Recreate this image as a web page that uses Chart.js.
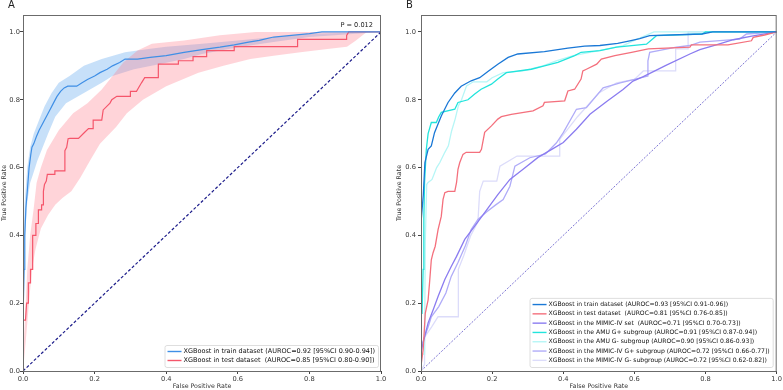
<!DOCTYPE html>
<html>
<head>
<meta charset="utf-8">
<script src="https://cdn.jsdelivr.net/npm/chart.js@4.4.1/dist/chart.umd.min.js"></script>
<style>
  body { margin: 0; background: #fff; width: 783px; height: 390px; position: relative; overflow: hidden; font-family: "DejaVu Sans", sans-serif; }
  canvas { position: absolute; top: 0; }
  .panel { position: absolute; top: -1px; font-size: 10px; color: #222; }
</style>
</head>
<body>
<canvas id="chartA" width="390" height="390" style="left:0"></canvas>
<canvas id="chartB" width="393" height="390" style="left:390px"></canvas>
<div class="panel" style="left:8px">A</div>
<div class="panel" style="left:406px">B</div>
<script>
// ---------- Panel A data ----------
const trainA_fpr = [0, 0, 0.003, 0.005, 0.008, 0.012, 0.017, 0.022, 0.025, 0.03, 0.037, 0.045, 0.055, 0.065, 0.075, 0.085, 0.095, 0.105, 0.115, 0.125, 0.15, 0.165, 0.18, 0.2, 0.215, 0.235, 0.25, 0.27, 0.285, 0.32, 0.355, 0.4, 0.45, 0.5, 0.55, 0.59, 0.63, 0.66, 0.7, 0.75, 0.8, 0.835, 1.0];
const trainA_tpr = [0, 0.15, 0.3, 0.4, 0.48, 0.53, 0.6, 0.64, 0.66, 0.67, 0.69, 0.71, 0.73, 0.75, 0.77, 0.79, 0.81, 0.825, 0.835, 0.84, 0.84, 0.85, 0.86, 0.87, 0.88, 0.89, 0.9, 0.91, 0.92, 0.92, 0.925, 0.93, 0.94, 0.948, 0.955, 0.962, 0.97, 0.975, 0.985, 0.99, 0.995, 1.0, 1.0];

const trainA_hi_fpr = [0, 0, 0.005, 0.012, 0.02, 0.03, 0.045, 0.06, 0.08, 0.1, 0.13, 0.17, 0.22, 0.285, 0.35, 0.4, 0.5, 0.6, 0.7, 0.8, 1.0];
const trainA_hi_tpr = [0, 0.3, 0.5, 0.6, 0.66, 0.7, 0.74, 0.78, 0.82, 0.85, 0.87, 0.9, 0.92, 0.94, 0.95, 0.956, 0.965, 0.975, 0.985, 0.995, 1.0];
const trainA_lo_fpr = [1.0, 0.8, 0.7, 0.6, 0.5, 0.45, 0.38, 0.31, 0.25, 0.22, 0.17, 0.12, 0.09, 0.07, 0.052, 0.04, 0.028, 0.02, 0.012, 0.006, 0.004, 0.002, 0];
const trainA_lo_tpr = [1.0, 0.985, 0.97, 0.955, 0.935, 0.92, 0.905, 0.89, 0.87, 0.85, 0.82, 0.79, 0.75, 0.7, 0.652, 0.62, 0.58, 0.555, 0.5, 0.4, 0.3, 0.15, 0];

const testA_fpr = [0, 0, 0.007, 0.01, 0.015, 0.015, 0.021, 0.021, 0.027, 0.027, 0.036, 0.036, 0.043, 0.043, 0.052, 0.052, 0.057, 0.057, 0.06, 0.065, 0.068, 0.089, 0.089, 0.117, 0.117, 0.122, 0.126, 0.131, 0.155, 0.173, 0.183, 0.196, 0.196, 0.22, 0.224, 0.243, 0.248, 0.262, 0.3, 0.3, 0.317, 0.322, 0.331, 0.34, 0.378, 0.378, 0.434, 0.434, 0.475, 0.475, 0.513, 0.513, 0.59, 0.59, 0.767, 0.767, 0.904, 0.904, 0.91, 1.0];
const testA_tpr = [0, 0.15, 0.15, 0.2, 0.2, 0.26, 0.26, 0.3, 0.3, 0.4, 0.4, 0.435, 0.435, 0.475, 0.475, 0.49, 0.49, 0.53, 0.55, 0.56, 0.58, 0.58, 0.59, 0.59, 0.65, 0.66, 0.685, 0.686, 0.686, 0.705, 0.715, 0.715, 0.74, 0.74, 0.77, 0.79, 0.80, 0.81, 0.81, 0.825, 0.825, 0.834, 0.85, 0.865, 0.865, 0.905, 0.905, 0.915, 0.915, 0.927, 0.927, 0.945, 0.945, 0.957, 0.957, 0.978, 0.978, 0.99, 1.0, 1.0];

const testA_hi_fpr = [0, 0.003, 0.006, 0.012, 0.02, 0.03, 0.038, 0.05, 0.067, 0.1, 0.14, 0.18, 0.22, 0.25, 0.28, 0.32, 0.36, 0.45, 0.55, 0.65, 1.0];
const testA_hi_tpr = [0, 0.1, 0.16, 0.3, 0.4, 0.48, 0.555, 0.6, 0.652, 0.71, 0.76, 0.79, 0.83, 0.87, 0.91, 0.945, 0.965, 0.975, 0.99, 1.0, 1.0];
const testA_lo_fpr = [1, 0.96, 0.93, 0.905, 0.85, 0.775, 0.7, 0.635, 0.56, 0.49, 0.4, 0.335, 0.29, 0.26, 0.215, 0.187, 0.16, 0.135, 0.11, 0.09, 0.07, 0.05, 0.035, 0.025, 0.015, 0.007, 0];
const testA_lo_tpr = [1, 1, 0.975, 0.956, 0.95, 0.94, 0.93, 0.92, 0.9, 0.88, 0.84, 0.8, 0.76, 0.72, 0.67, 0.62, 0.57, 0.53, 0.51, 0.49, 0.46, 0.42, 0.36, 0.3, 0.18, 0.08, 0];

const legendA = [
  'XGBoost in train dataset (AUROC=0.92 [95%CI 0.90-0.94])',
  'XGBoost in test dataset  (AUROC=0.85 [95%CI 0.80-0.90])'
];
const pValueText = 'P = 0.012';

// ---------- Panel B data ----------
const trainB_fpr = [0, 0, 0.002, 0.0065, 0.011, 0.02, 0.029, 0.038, 0.057, 0.076, 0.095, 0.113, 0.141, 0.165, 0.19, 0.216, 0.245, 0.272, 0.347, 0.413, 0.46, 0.503, 0.553, 0.587, 0.615, 0.643, 0.79, 0.82, 1.0];
const trainB_tpr = [0, 0.4, 0.45, 0.52, 0.615, 0.654, 0.664, 0.703, 0.752, 0.792, 0.82, 0.84, 0.856, 0.865, 0.885, 0.905, 0.925, 0.935, 0.942, 0.952, 0.958, 0.96, 0.966, 0.974, 0.98, 0.989, 0.994, 1.0, 1.0];

const testB_fpr = [0, 0.001, 0.006, 0.012, 0.02, 0.024, 0.029, 0.034, 0.04, 0.048, 0.057, 0.062, 0.067, 0.076, 0.095, 0.1, 0.104, 0.109, 0.118, 0.127, 0.165, 0.17, 0.179, 0.198, 0.216, 0.226, 0.254, 0.315, 0.343, 0.347, 0.404, 0.413, 0.432, 0.45, 0.455, 0.465, 0.494, 0.507, 0.545, 0.592, 0.639, 0.756, 0.76, 0.863, 0.929, 0.934, 0.966, 1.0];
const testB_tpr = [0, 0.023, 0.062, 0.17, 0.21, 0.26, 0.328, 0.349, 0.368, 0.417, 0.456, 0.506, 0.526, 0.53, 0.53, 0.556, 0.595, 0.615, 0.639, 0.645, 0.645, 0.654, 0.704, 0.723, 0.743, 0.75, 0.757, 0.767, 0.782, 0.792, 0.797, 0.826, 0.831, 0.861, 0.885, 0.89, 0.905, 0.92, 0.93, 0.94, 0.95, 0.955, 0.962, 0.962, 0.974, 0.984, 0.991, 1.0];

const mimicB_fpr = [0, 0.001, 0.01, 0.02, 0.034, 0.048, 0.067, 0.085, 0.10, 0.123, 0.151, 0.179, 0.216, 0.25, 0.287, 0.329, 0.37, 0.40, 0.437, 0.475, 0.522, 0.568, 0.596, 0.625, 0.69, 0.756, 0.784, 0.83, 0.878, 0.93, 1.0];
const mimicB_tpr = [0, 0.062, 0.10, 0.142, 0.18, 0.22, 0.27, 0.308, 0.338, 0.388, 0.427, 0.467, 0.52, 0.565, 0.595, 0.63, 0.655, 0.674, 0.713, 0.757, 0.795, 0.83, 0.855, 0.868, 0.902, 0.935, 0.948, 0.962, 0.977, 0.988, 1.0];

const amuPosB_fpr = [0, 0, 0.003, 0.006, 0.008, 0.01, 0.015, 0.02, 0.029, 0.043, 0.05, 0.057, 0.095, 0.104, 0.132, 0.151, 0.169, 0.198, 0.216, 0.24, 0.31, 0.347, 0.385, 0.432, 0.45, 0.503, 0.55, 0.634, 0.662, 0.79, 0.80, 1.0];
const amuPosB_tpr = [0, 0.17, 0.17, 0.3, 0.45, 0.556, 0.654, 0.70, 0.733, 0.733, 0.75, 0.763, 0.772, 0.792, 0.80, 0.817, 0.831, 0.846, 0.861, 0.88, 0.89, 0.90, 0.91, 0.93, 0.94, 0.945, 0.955, 0.964, 0.989, 0.994, 1.0, 1.0];

const amuNegB_fpr = [0, 0, 0.01, 0.012, 0.016, 0.02, 0.031, 0.044, 0.053, 0.067, 0.077, 0.086, 0.096, 0.105, 0.114, 0.128, 0.147, 0.185, 0.2, 0.231, 0.287, 0.343, 0.38, 0.428, 0.5, 0.568, 0.6, 0.655, 1.0];
const amuNegB_tpr = [0, 0.05, 0.05, 0.38, 0.55, 0.556, 0.565, 0.6, 0.615, 0.645, 0.664, 0.708, 0.743, 0.782, 0.80, 0.841, 0.853, 0.853, 0.865, 0.88, 0.885, 0.90, 0.915, 0.93, 0.945, 0.96, 0.975, 1.0, 1.0];

const mimicPosB_fpr = [0, 0.003, 0.01, 0.02, 0.029, 0.05, 0.07, 0.085, 0.104, 0.125, 0.141, 0.16, 0.185, 0.21, 0.231, 0.25, 0.264, 0.306, 0.35, 0.381, 0.40, 0.437, 0.465, 0.512, 0.56, 0.6, 0.638, 0.638, 0.643, 0.718, 0.756, 0.784, 0.896, 0.915, 0.962, 1.0];
const mimicPosB_tpr = [0, 0.08, 0.1, 0.13, 0.16, 0.19, 0.23, 0.279, 0.32, 0.37, 0.417, 0.447, 0.47, 0.49, 0.506, 0.545, 0.604, 0.629, 0.64, 0.673, 0.703, 0.772, 0.777, 0.835, 0.85, 0.86, 0.87, 0.915, 0.94, 0.955, 0.96, 0.97, 0.979, 0.994, 0.997, 1.0];

const mimicNegB_fpr = [0, 0.01, 0.01, 0.03, 0.048, 0.105, 0.105, 0.12, 0.14, 0.16, 0.165, 0.175, 0.213, 0.222, 0.27, 0.39, 0.39, 0.44, 0.5, 0.55, 0.6, 0.625, 0.716, 0.716, 0.751, 0.751, 1.0];
const mimicNegB_tpr = [0, 0.02, 0.10, 0.13, 0.16, 0.16, 0.30, 0.34, 0.40, 0.44, 0.53, 0.56, 0.56, 0.604, 0.634, 0.634, 0.683, 0.75, 0.82, 0.85, 0.86, 0.885, 0.885, 0.95, 0.95, 1.0, 1.0];

const legendB = [
  'XGBoost in train dataset (AUROC=0.93 [95%CI 0.91-0.96])',
  'XGBoost in test dataset  (AUROC=0.81 [95%CI 0.76-0.85])',
  'XGBoost in the MIMIC-IV set  (AUROC=0.71 [95%CI 0.70-0.73])',
  'XGBoost in the AMU G+ subgroup (AUROC=0.91 [95%CI 0.87-0.94])',
  'XGBoost in the AMU G- subgroup (AUROC=0.90 [95%CI 0.86-0.93])',
  'XGBoost in the MIMIC-IV G+ subgroup (AUROC=0.72 [95%CI 0.66-0.77])',
  'XGBoost in the MIMIC-IV G- subgroup (AUROC=0.72 [95%CI 0.62-0.82])'
];

const xTicks = [0, 0.2, 0.4, 0.6, 0.8, 1.0];
const yTicks = [0, 0.2, 0.4, 0.6, 0.8, 1.0];

// ---------- helpers ----------
const pts = (xs, ys) => xs.map((x, i) => ({ x, y: ys[i] }));
const FONT = '"DejaVu Sans", sans-serif';
const TEXT = '#333';

function line(label, xs, ys, color, width, extra) {
  return Object.assign({
    label, data: pts(xs, ys), borderColor: color, backgroundColor: color,
    borderWidth: width, pointRadius: 0, fill: false, tension: 0, showLine: true
  }, extra || {});
}

// confidence band: upper edge then lower edge, filled as one closed shape
function band(xsHi, ysHi, xsLo, ysLo, color) {
  return {
    data: pts(xsHi, ysHi).concat(pts(xsLo, ysLo)),
    borderWidth: 0, borderColor: 'rgba(0,0,0,0)', backgroundColor: color,
    pointRadius: 0, fill: 'shape', tension: 0, showLine: true
  };
}

// frame, legend box and text annotation
const rocDecor = {
  id: 'rocDecor',
  afterDraw(chart, args, opts) {
    const { ctx, chartArea: a } = chart;
    ctx.save();
    ctx.strokeStyle = '#6b6b6b';
    ctx.lineWidth = 1;
    ctx.strokeRect(a.left + 0.5, a.top + 0.5, a.right - a.left - 1, a.bottom - a.top);

    if (opts.note) {
      ctx.fillStyle = '#222';
      ctx.font = '6.6px ' + FONT;
      ctx.textAlign = 'right';
      ctx.textBaseline = 'middle';
      ctx.fillText(opts.note, a.right - 8, a.top + 10);
    }

    const items = chart.data.datasets.filter(d => d.label);
    if (items.length) {
      ctx.font = opts.fontSize + 'px ' + FONT;
      const tw = Math.max(...items.map(d => ctx.measureText(d.label).width));
      const rowH = opts.rowH, pad = 3, sw = 14;
      const w = pad + sw + 2 + tw + pad;
      const h = rowH * items.length + 4;
      const right = a.right - opts.inset, bottom = a.bottom - 4;
      const left = right - w, top = bottom - h;
      ctx.fillStyle = 'rgba(255,255,255,0.85)';
      ctx.strokeStyle = '#d6d6d6';
      ctx.lineWidth = 0.8;
      ctx.beginPath();
      ctx.roundRect(left + 0.5, top + 0.5, w, h, 2);
      ctx.fill();
      ctx.stroke();
      ctx.textAlign = 'left';
      ctx.textBaseline = 'middle';
      items.forEach((d, i) => {
        const y = top + 2 + rowH * (i + 0.5);
        ctx.strokeStyle = d.borderColor;
        ctx.lineWidth = 1.4;
        ctx.setLineDash([]);
        ctx.beginPath();
        ctx.moveTo(left + pad, y);
        ctx.lineTo(left + pad + sw, y);
        ctx.stroke();
        ctx.fillStyle = '#111';
        ctx.fillText(d.label, left + pad + sw + 2, y);
      });
    }
    ctx.restore();
  }
};

function scales(yWidth, yTitlePad, tickPad) {
  const font = { family: FONT, size: 6.7 };
  const titleFont = { family: FONT, size: 6.3 };
  return {
    x: {
      type: 'linear', min: 0, max: 1,
      afterBuildTicks: s => { s.ticks = xTicks.map(v => ({ value: v })); },
      ticks: { font, color: TEXT, padding: 1, maxRotation: 0, callback: v => v.toFixed(1) },
      grid: { drawOnChartArea: false, tickLength: 3, color: '#444' },
      border: { display: false },
      title: { display: true, text: 'False Positive Rate', font: titleFont, color: TEXT, padding: { top: 0, bottom: 0 } },
      afterFit: s => { s.height = 19; }
    },
    y: {
      type: 'linear', min: 0, max: 1.05,
      afterBuildTicks: s => { s.ticks = yTicks.map(v => ({ value: v })); },
      ticks: { font, color: TEXT, padding: tickPad, callback: v => v.toFixed(1) },
      grid: { drawOnChartArea: false, tickLength: 3, color: '#444' },
      border: { display: false },
      title: { display: true, text: 'True Positive Rate', font: titleFont, color: TEXT, padding: { top: yTitlePad, bottom: 0 } },
      afterFit: s => { s.width = yWidth; }
    }
  };
}

function baseOptions(pad, yWidth, yTitlePad, tickPad, decor) {
  return {
    responsive: false, animation: false, devicePixelRatio: 1,
    layout: { padding: pad },
    plugins: { legend: { display: false }, tooltip: { enabled: false }, rocDecor: decor },
    scales: scales(yWidth, yTitlePad, tickPad)
  };
}

// ---------- Chart A ----------
new Chart(document.getElementById('chartA'), {
  type: 'scatter',
  data: {
    datasets: [
      line(null, [0, 1], [0, 1], '#1c1c8a', 1.2, { borderDash: [3, 2] }),
      line(legendA[0], trainA_fpr, trainA_tpr, '#3f8fe6', 1.2),
      line(legendA[1], testA_fpr, testA_tpr, '#f5566b', 1.2),
      band(testA_hi_fpr, testA_hi_tpr, testA_lo_fpr, testA_lo_tpr, 'rgba(255,125,140,0.33)'),
      band(trainA_hi_fpr, trainA_hi_tpr, trainA_lo_fpr, trainA_lo_tpr, 'rgba(85,160,238,0.33)')
    ]
  },
  options: baseOptions({ top: 15, right: 9, left: 0, bottom: 0 }, 23, 0.5, 0, { note: pValueText, rowH: 9, inset: 3, fontSize: 6.5 }),
  plugins: [rocDecor]
});

// ---------- Chart B ----------
new Chart(document.getElementById('chartB'), {
  type: 'scatter',
  data: {
    datasets: [
      line(legendB[0], trainB_fpr, trainB_tpr, '#1a78d6', 1.3),
      line(legendB[1], testB_fpr, testB_tpr, '#f4707d', 1.3),
      line(legendB[2], mimicB_fpr, mimicB_tpr, '#8b7cf0', 1.3),
      line(legendB[3], amuPosB_fpr, amuPosB_tpr, '#22e4dc', 1.3),
      line(legendB[4], amuNegB_fpr, amuNegB_tpr, '#b6f6f6', 1.3),
      line(legendB[5], mimicPosB_fpr, mimicPosB_tpr, '#b0acf8', 1.3),
      line(legendB[6], mimicNegB_fpr, mimicNegB_tpr, '#dcdcfa', 1.3),
      line(null, [0, 1], [0, 1], '#5b50c8', 0.8, { borderDash: [2, 1.5] })
    ]
  },
  options: baseOptions({ top: 15, right: 6, left: 0, bottom: 0 }, 31, 6, 2, { rowH: 9.3, inset: 4, fontSize: 6.1 }),
  plugins: [rocDecor]
});
</script>
</body>
</html>
